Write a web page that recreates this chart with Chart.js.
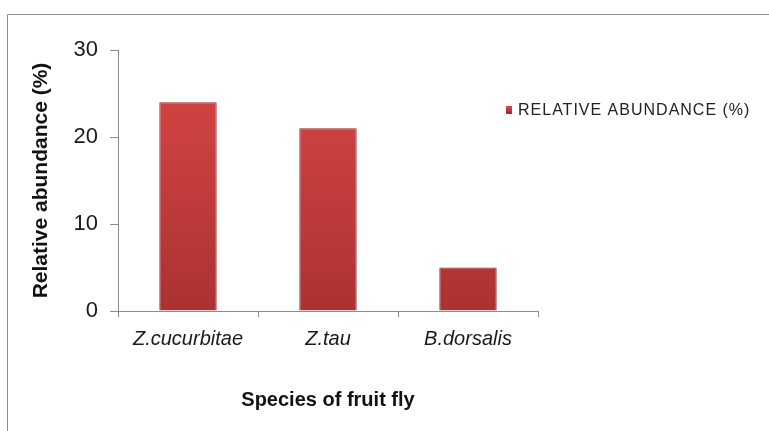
<!DOCTYPE html>
<html>
<head>
<meta charset="utf-8">
<script src="https://cdn.jsdelivr.net/npm/chart.js@4"></script>
<style>
  html, body { margin: 0; padding: 0; background: #fff; }
  #wrap { position: relative; width: 769px; height: 431px; }
</style>
</head>
<body>
<div id="wrap"><canvas id="flyChart" width="769" height="431"></canvas></div>
<script>
var species = ['Z.cucurbitae', 'Z.tau', 'B.dorsalis'];
var abundance = [24, 21, 5];
var yTicks = [0, 10, 20, 30];
var seriesName = 'RELATIVE ABUNDANCE (%)';

var fontFam = "'Liberation Sans', Arial, sans-serif";

// frame + legend like the excel export
var frame_plug = {
  id: 'frame',
  beforeDraw: function(chart) {
    var ctx = chart.ctx;
    ctx.save();
    ctx.strokeStyle = '#8c8c8c';
    ctx.lineWidth = 1;
    ctx.beginPath();
    ctx.moveTo(7.5, 431);
    ctx.lineTo(7.5, 14.5);
    ctx.lineTo(769, 14.5);
    ctx.stroke();
    ctx.restore();
  },
  afterDraw: function(chart) {
    var ctx = chart.ctx;
    var ds = chart.data.datasets[0];
    ctx.save();
    var g = ctx.createLinearGradient(0, 106, 0, 114);
    g.addColorStop(0, '#d94545');
    g.addColorStop(1, '#9e2c2c');
    ctx.fillStyle = g;
    ctx.fillRect(506, 106, 6, 8);
    ctx.font = "16px " + fontFam;
    ctx.letterSpacing = '1px';
    ctx.fillStyle = '#222';
    ctx.textBaseline = 'middle';
    ctx.fillText(ds.label, 518, 111);
    ctx.restore();
  }
};

var ctx = document.getElementById('flyChart').getContext('2d');
var chart = new Chart(ctx, {
  type: 'bar',
  plugins: [frame_plug],
  data: {
    labels: species,
    datasets: [{
      label: seriesName,
      data: abundance,
      backgroundColor: function(c) {
        var area = c.chart.chartArea;
        if (!area) return '#c83c3c';
        var g = c.chart.ctx.createLinearGradient(0, area.top, 0, area.bottom);
        g.addColorStop(0, '#db4747');
        g.addColorStop(1, '#ab3232');
        return g;
      },
      borderColor: '#8e2a2a',
      borderWidth: 1,
      barPercentage: 0.41,
      categoryPercentage: 1.0
    }]
  },
  options: {
    responsive: false,
    animation: false,
    events: [],
    layout: { padding: { left: 0, top: 50, right: 231, bottom: 0 } },
    plugins: {
      legend: { display: false },
      tooltip: { enabled: false }
    },
    scales: {
      x: {
        afterFit: function(axis) { axis.height = 120; },
        grid: {
          display: true,
          drawOnChartArea: false,
          drawTicks: true,
          tickLength: 6,
          color: '#8c8c8c',
          offset: true
        },
        border: { color: '#8c8c8c', width: 1 },
        ticks: {
          color: '#1a1a1a',
          padding: 10,
          maxRotation: 0,
          font: { family: fontFam, size: 20, style: 'italic' }
        },
        title: {
          display: true,
          text: 'Species of fruit fly',
          color: '#111',
          padding: { top: 0, bottom: 19 },
          font: { family: fontFam, size: 20, weight: 'bold' }
        }
      },
      y: {
        min: 0,
        max: 30,
        afterFit: function(axis) { axis.width = 118; },
        afterBuildTicks: function(axis) {
          axis.ticks = yTicks.map(function(v) { return { value: v }; });
        },
        grid: {
          display: true,
          drawOnChartArea: false,
          drawTicks: true,
          tickLength: 8,
          color: '#8c8c8c'
        },
        border: { color: '#8c8c8c', width: 1 },
        ticks: {
          color: '#1a1a1a',
          padding: 12,
          font: { family: fontFam, size: 22 }
        },
        title: {
          display: true,
          text: 'Relative abundance (%)',
          color: '#111',
          padding: { top: 29, bottom: 0 },
          font: { family: fontFam, size: 21, weight: 'bold' }
        }
      }
    }
  }
});
</script>
</body>
</html>
